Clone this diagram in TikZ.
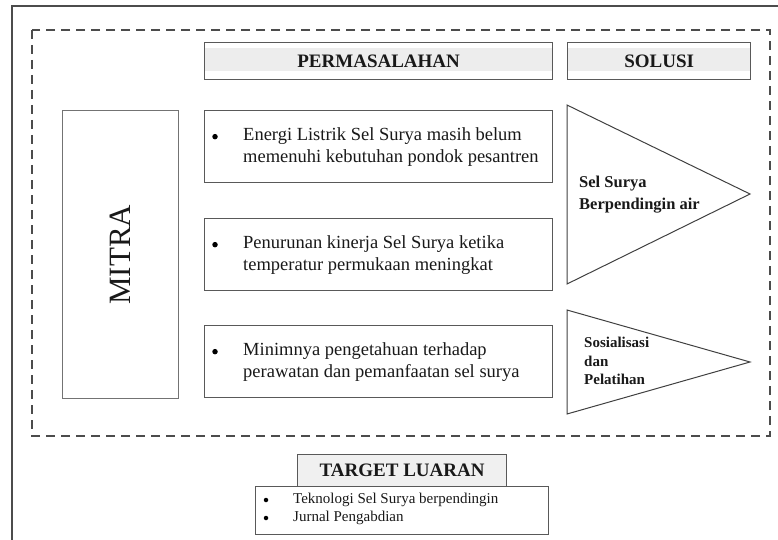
\documentclass[tikz,border=0pt]{standalone}
\usepackage{fontspec}
\setmainfont{Liberation Serif}
\usetikzlibrary{positioning,backgrounds}

\tikzset{
  kotak/.style={draw=black!65, line width=1.3pt, fill=white, inner sep=0pt},
  judul/.style={kotak, text=black!90, font=\bfseries\fontsize{19}{21}\selectfont,
    path picture={\fill[black!7] ([yshift=-5pt]path picture bounding box.north west)
      rectangle ([yshift=9pt]path picture bounding box.south east);}},
  masalah/.style={kotak, anchor=north west, minimum width=348pt, minimum height=72pt},
  isi/.style={anchor=west, align=left, text=black!90, inner sep=0pt,
    font=\fontsize{18.5}{22}\selectfont},
  titik/.style={circle, fill=black, inner sep=0pt, minimum size=5.5pt},
  segitiga/.style={draw=black!75, line width=1pt, line join=miter},
  solusiteks/.style={anchor=west, align=left, text=black!90, inner sep=0pt, font=\bfseries},
}

\begin{document}
\begin{tikzpicture}[x=1pt, y=-1pt]
\useasboundingbox (0,0) rectangle (778,540);

% bingkai luar dan area kegiatan
\draw[black!70, line width=1.3pt] (778,6) -- (12,6) -- (12,540);
\draw[black!70, line width=1.5pt, dash pattern=on 9pt off 6pt] (32,30) rectangle (770,436);

% judul kolom
\node[judul, anchor=north west, minimum width=348pt, minimum height=37pt] (permasalahan) at (204,42) {PERMASALAHAN};
\node[judul, anchor=north west, minimum width=183pt, minimum height=37pt] (solusi) at (567,42) {SOLUSI};

% mitra
\node[kotak, draw=black!55, anchor=north west, minimum width=116pt, minimum height=288pt] (mitra) at (62,110) {};
\node[rotate=90, text=black!90, font=\fontsize{31}{31}\selectfont] (mitrateks) at (mitra.center) {MITRA};

% permasalahan
\node[masalah] (m1) at (204,110) {};
\node[titik] (b1) at ([xshift=11pt, yshift=10pt]m1.west) {};
\node[isi] (t1) at ([xshift=39pt]m1.west) {Energi Listrik Sel Surya masih belum\\memenuhi kebutuhan pondok pesantren};

\node[masalah] (m2) at (204,218) {};
\node[titik] (b2) at ([xshift=11pt, yshift=10pt]m2.west) {};
\node[isi] (t2) at ([xshift=39pt]m2.west) {Penurunan kinerja Sel Surya ketika\\temperatur permukaan meningkat};

\node[masalah] (m3) at (204,325) {};
\node[titik] (b3) at ([xshift=11pt, yshift=10pt]m3.west) {};
\node[isi] (t3) at ([xshift=39pt]m3.west) {Minimnya pengetahuan terhadap\\perawatan dan pemanfaatan sel surya};

% solusi
\draw[segitiga] (567,105) coordinate (s1a) -- (750,194) coordinate (s1b) -- (567,284) coordinate (s1c) -- cycle;
\node[solusiteks, font=\bfseries\fontsize{16.5}{22}\selectfont] (s1) at (579,195) {Sel Surya\\Berpendingin air};

\draw[segitiga] (567,310) coordinate (s2a) -- (750,362) coordinate (s2b) -- (567,414) coordinate (s2c) -- cycle;
\node[solusiteks, font=\bfseries\fontsize{15}{18.5}\selectfont] (s2) at (584,361) {Sosialisasi\\dan\\Pelatihan};

% target luaran
\node[kotak, anchor=north west, minimum width=293pt, minimum height=48pt] (luaran) at (255,486) {};
\node[kotak, fill=black!6, anchor=north west, minimum width=209pt, minimum height=32pt,
  text=black!90, font=\bfseries\fontsize{19}{21}\selectfont] (target) at (297,454) {TARGET LUARAN};
\node[titik, minimum size=4.5pt] (lb1) at (266,500) {};
\node[isi, font=\fontsize{15}{18}\selectfont] (l1) at (293,500) {Teknologi Sel Surya berpendingin};
\node[titik, minimum size=4.5pt] (lb2) at (266,518) {};
\node[isi, font=\fontsize{15}{18}\selectfont] (l2) at (293,518) {Jurnal Pengabdian};
\end{tikzpicture}
\end{document}
